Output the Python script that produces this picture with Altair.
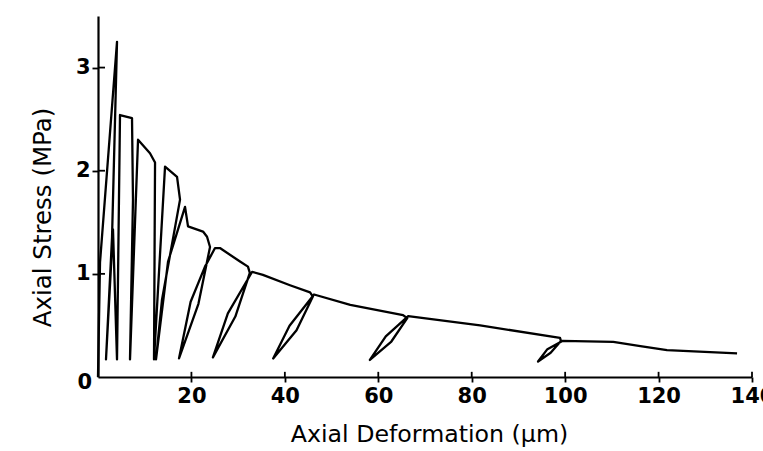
import altair as alt
import pandas as pd

# Path of the test (axial deformation in um, axial stress in MPa), in drawing order
path_x = [0.0, 0.43, 4.07, 3.0, 1.71, 3.21, 4.07, 4.71, 7.28, 7.49, 6.85, 8.57,
          11.13, 12.21, 11.99, 14.35, 16.92, 17.56, 13.7, 12.42, 15.0, 18.63,
          19.27, 22.48, 23.34, 23.98, 21.5, 17.34, 19.83, 22.9, 25.05,
          26.1, 30.4, 32.1, 32.5, 29.4, 24.6, 27.8, 33.0, 35.3,
          41.1, 45.4, 46.0, 42.5, 37.5, 41.0, 46.25,
          54.0, 65.3, 66.2, 62.8, 58.2, 61.6, 66.4,
          81.8, 98.9, 99.1, 96.9, 94.2, 96.2, 99.4,
          110.3, 116.1, 121.8, 136.8]
path_y = [0.0, 1.11, 3.25, 1.35, 0.17, 1.43, 0.17, 2.54, 2.51, 1.72, 0.17, 2.30,
          2.17, 2.08, 0.17, 2.04, 1.94, 1.72, 0.75, 0.17, 1.12, 1.65,
          1.46, 1.41, 1.36, 1.26, 0.71, 0.18, 0.73, 1.07, 1.25,
          1.25, 1.12, 1.07, 1.01, 0.586, 0.19, 0.617, 1.02, 0.99,
          0.89, 0.82, 0.78, 0.454, 0.18, 0.497, 0.80,
          0.70, 0.60, 0.57, 0.344, 0.165, 0.394, 0.59,
          0.50, 0.38, 0.35, 0.235, 0.15, 0.27, 0.35,
          0.34, 0.30, 0.26, 0.23]

x_ticks = [20, 40, 60, 80, 100, 120, 140]
y_ticks = [1, 2, 3]

# inner halves of the tick marks (style), in data units
XT_IN = 0.05
YT_IN = 1.5

df = pd.DataFrame({"x": path_x, "y": path_y, "i": list(range(len(path_x)))})
xt = pd.DataFrame({"tx": [float(v) for v in x_ticks]})
xt["ty0"] = 0.0
xt["ty1"] = XT_IN
yt = pd.DataFrame({"sy": [float(v) for v in y_ticks]})
yt["sx0"] = 0.0
yt["sx1"] = YT_IN

xs = alt.Scale(domain=[0, 140], nice=False, zero=False)
ys = alt.Scale(domain=[0, 3.5], nice=False, zero=False)

FONT = "DejaVu Sans"

xaxis = alt.Axis(
    title="Axial Deformation (\u00b5m)", values=x_ticks, ticks=True, tickSize=5,
    tickWidth=1.8, tickColor="black", grid=False,
    domainColor="black", domainWidth=2.2, labelFont=FONT, labelFontSize=21,
    labelColor="black", labelPadding=3, labelFontWeight="bold",
    titleFont=FONT, titleFontSize=23.7, titleFontWeight="normal",
    titleColor="black", titlePadding=16, titleX=331, labelFlush=False)
yaxis = alt.Axis(
    title="Axial Stress (MPa)", values=y_ticks, ticks=True, tickSize=6,
    tickWidth=1.8, tickColor="black", grid=False,
    domainColor="black", domainWidth=2.2, labelFont=FONT, labelFontSize=21,
    labelColor="black", labelPadding=2, labelFontWeight="bold",
    titleFont=FONT, titleFontSize=24.5, titleFontWeight="normal",
    titleColor="black", titlePadding=20, titleY=201, labelFlush=False)

line = alt.Chart(df).mark_line(color="black", strokeWidth=2.3, strokeJoin="round").encode(
    x=alt.X("x:Q", scale=xs, axis=xaxis),
    y=alt.Y("y:Q", scale=ys, axis=yaxis),
    order="i:Q",
)

xtick = alt.Chart(xt).mark_rule(color="black", strokeWidth=1.8, clip=False).encode(
    x=alt.X("tx:Q", scale=xs, axis=xaxis),
    y=alt.Y("ty0:Q", scale=ys, axis=yaxis),
    y2="ty1:Q")
ytick = alt.Chart(yt).mark_rule(color="black", strokeWidth=1.8, clip=False).encode(
    y=alt.Y("sy:Q", scale=ys, axis=yaxis),
    x=alt.X("sx0:Q", scale=xs, axis=xaxis),
    x2="sx1:Q")

# the shared "0" at the corner
zero = alt.Chart(pd.DataFrame({"x": [0.0], "y": [0.0], "t": ["0"]})).mark_text(
    font=FONT, fontSize=21, fontWeight="bold", align="right", baseline="middle",
    dx=-6, dy=6, color="black").encode(
    x=alt.X("x:Q", scale=xs, axis=xaxis), y=alt.Y("y:Q", scale=ys, axis=yaxis), text="t:N")

chart = alt.layer(line, xtick, ytick, zero).properties(
    width=654, height=361,
    autosize=alt.AutoSizeParams(type="none"),
    padding={"left": 98, "top": 16, "right": 11, "bottom": 74},
    background="white",
).configure_view(stroke=None)

chart.save("out.html", embed_options={"renderer": "svg", "actions": False})
